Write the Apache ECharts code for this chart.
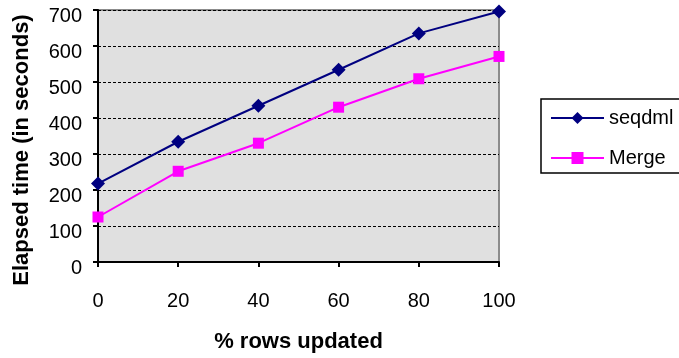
<!DOCTYPE html>
<html>
<head>
<meta charset="utf-8">
<script src="https://cdn.jsdelivr.net/npm/echarts@6/dist/echarts.min.js"></script>
<style>
  html, body { margin: 0; padding: 0; background: #ffffff; }
  #chart { width: 679px; height: 358px; }
</style>
</head>
<body>
<div id="chart"></div>
<script>
// Percentage of rows updated (x) and elapsed seconds for each method
const rowsUpdated = [0, 20, 40, 60, 80, 100];
const seqdmlTimes = [218, 334, 434, 534, 635, 696];
const mergeTimes = [125, 252, 330, 430, 509, 571];
const seriesNames = ['seqdml', 'Merge'];

const FONT = '"Liberation Sans", Arial, sans-serif';

const chart = echarts.init(document.getElementById('chart'), null, { renderer: 'canvas' });

chart.setOption({
  animation: false,
  backgroundColor: '#ffffff',
  textStyle: { fontFamily: FONT },
  grid: {
    left: 98, top: 10, right: 180, bottom: 96,
    show: true,
    backgroundColor: '#e0e0e0',
    borderColor: '#8c8c8c',
    borderWidth: 2
  },
  legend: {
    data: seriesNames,
    orient: 'vertical',
    left: 541,
    top: 99,
    padding: [9, 60, 5, 9],
    itemWidth: 53,
    itemHeight: 15,
    itemGap: 20,
    borderColor: '#000000',
    borderWidth: 1.5,
    backgroundColor: '#ffffff',
    textStyle: { fontFamily: FONT, fontSize: 20, color: '#000000' }
  },
  xAxis: {
    type: 'value',
    min: 0, max: 100, interval: 20,
    name: '% rows updated',
    nameLocation: 'middle',
    nameGap: 69,
    nameTextStyle: { fontFamily: FONT, fontSize: 22, fontWeight: 'bold', color: '#000000' },
    axisLine: { show: true, lineStyle: { color: '#000000', width: 2 } },
    axisTick: { show: true, length: 5, lineStyle: { color: '#000000', width: 2 } },
    axisLabel: { margin: 29, fontFamily: FONT, fontSize: 20, color: '#000000' },
    splitLine: { show: false }
  },
  yAxis: {
    type: 'value',
    min: 0, max: 700, interval: 100,
    name: 'Elapsed time (in seconds)',
    nameLocation: 'middle',
    nameGap: 65,
    nameTextStyle: { fontFamily: FONT, fontSize: 22, fontWeight: 'bold', color: '#000000', padding: [0, 28, 0, 0] },
    axisLine: { show: true, lineStyle: { color: '#000000', width: 2 } },
    axisTick: { show: true, length: 5, lineStyle: { color: '#000000', width: 2 } },
    axisLabel: { margin: 16, fontFamily: FONT, fontSize: 20, color: '#000000', verticalAlign: 'top', lineHeight: 12 },
    splitLine: { show: true, lineStyle: { color: '#000000', width: 1, type: [3, 2] } }
  },
  series: [
    {
      name: seriesNames[0],
      type: 'line',
      data: rowsUpdated.map((x, i) => [x, seqdmlTimes[i]]),
      symbol: 'diamond',
      symbolSize: 14,
      clip: false,
      color: '#000080',
      lineStyle: { color: '#000080', width: 2 },
      itemStyle: { color: '#000080' }
    },
    {
      name: seriesNames[1],
      type: 'line',
      data: rowsUpdated.map((x, i) => [x, mergeTimes[i]]),
      symbol: 'rect',
      symbolSize: 11,
      clip: false,
      color: '#ff00ff',
      lineStyle: { color: '#ff00ff', width: 2 },
      itemStyle: { color: '#ff00ff' }
    }
  ]
});
</script>
</body>
</html>
